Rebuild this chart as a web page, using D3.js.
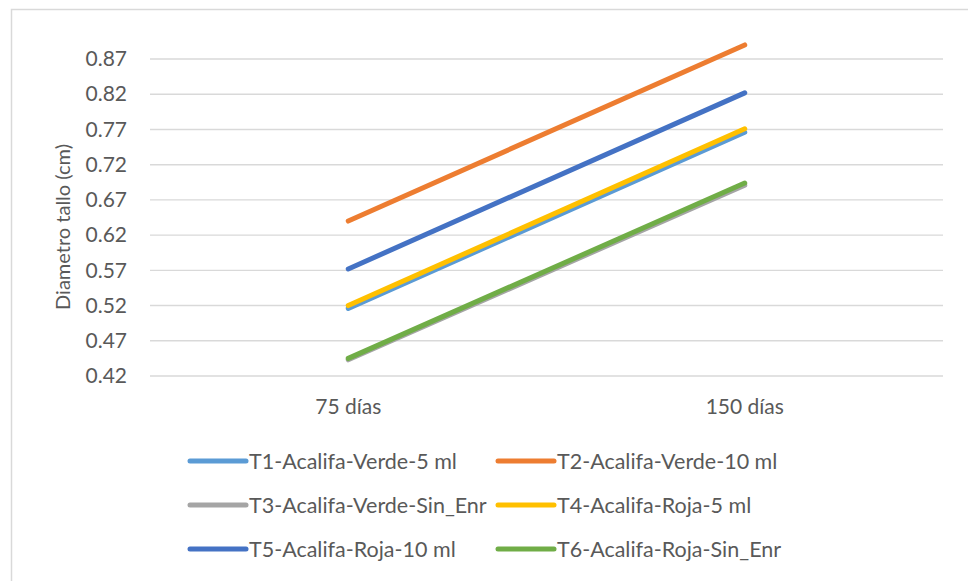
<!DOCTYPE html>
<html>
<head>
<meta charset="utf-8">
<script src="https://cdn.jsdelivr.net/npm/d3@7"></script>
<style>
  html, body { margin: 0; padding: 0; background: #fff; }
  svg { display: block; font-family: Lato, "Open Sans", sans-serif; }
</style>
</head>
<body>
<svg id="chart" width="968" height="581"></svg>
<script>
// Stem diameter at two sampling dates, per treatment
const categories = ["75 días", "150 días"];
const seriesNames = [
  "T1-Acalifa-Verde-5 ml",
  "T2-Acalifa-Verde-10 ml",
  "T3-Acalifa-Verde-Sin_Enr",
  "T4-Acalifa-Roja-5 ml",
  "T5-Acalifa-Roja-10 ml",
  "T6-Acalifa-Roja-Sin_Enr"
];
const t1 = [0.516, 0.766];
const t2 = [0.640, 0.890];
const t3 = [0.443, 0.691];
const t4 = [0.520, 0.771];
const t5 = [0.572, 0.822];
const t6 = [0.445, 0.694];
const seriesValues = [t1, t2, t3, t4, t5, t6];
const seriesColors = ["#5B9BD5", "#ED7D31", "#A5A5A5", "#FFC000", "#4472C4", "#70AD47"];
const yTicks = [0.42, 0.47, 0.52, 0.57, 0.62, 0.67, 0.72, 0.77, 0.82, 0.87];
const yTitle = "Diametro tallo (cm)";

const svg = d3.select("#chart");
const textColor = "#595959";
const gridColor = "#D9D9D9";

// chart frame
svg.append("rect")
  .attr("x", 11.5).attr("y", 9.5)
  .attr("width", 968).attr("height", 590)
  .attr("fill", "none").attr("stroke", gridColor).attr("stroke-width", 1.5);

const plot = { left: 150, right: 943, top: 37.9, bottom: 376 };

const x = d3.scaleBand().domain(categories).range([plot.left, plot.right]);
const y = d3.scaleLinear().domain([0.42, 0.90]).range([plot.bottom, plot.top]);

// horizontal gridlines
svg.append("g").selectAll("line").data(yTicks).join("line")
  .attr("x1", plot.left).attr("x2", plot.right)
  .attr("y1", d => y(d)).attr("y2", d => y(d))
  .attr("stroke", gridColor).attr("stroke-width", 1.4);

// y axis labels
const yAxis = d3.axisLeft(y).tickValues(yTicks).tickFormat(d3.format(".2f")).tickSize(0).tickPadding(0);
const gy = svg.append("g").attr("transform", `translate(127,0)`).call(yAxis);
gy.select(".domain").remove();
gy.selectAll("text").attr("fill", textColor).style("font-size", "21px").style("font-family", "Lato, sans-serif");

// x axis labels
const xAxis = d3.axisBottom(x).tickSize(0).tickPadding(0);
const gx = svg.append("g").attr("transform", `translate(0,${plot.bottom})`).call(xAxis);
gx.select(".domain").remove();
gx.selectAll("text").attr("fill", textColor).style("font-size", "21px")
  .style("font-family", "Lato, sans-serif").attr("dy", null).attr("y", 38);

// y axis title
svg.append("text")
  .attr("transform", `translate(70,${(plot.top + plot.bottom) / 2 + 20}) rotate(-90)`)
  .attr("text-anchor", "middle")
  .attr("fill", textColor).style("font-size", "20px")
  .text(yTitle);

// series lines
const line = d3.line()
  .x((d, i) => x(categories[i]) + x.bandwidth() / 2)
  .y(d => y(d));

svg.append("g").selectAll("path").data(seriesValues).join("path")
  .attr("d", d => line(d))
  .attr("fill", "none")
  .attr("stroke", (d, i) => seriesColors[i])
  .attr("stroke-width", 5)
  .attr("stroke-linecap", "round");

// legend
const legendCols = [190, 498];
const legendRows = [461, 505, 549];
const legend = svg.append("g").selectAll("g").data(seriesNames).join("g")
  .attr("transform", (d, i) => `translate(${legendCols[i % 2]},${legendRows[Math.floor(i / 2)]})`);
legend.append("line")
  .attr("x1", 0).attr("x2", 56).attr("y1", 0).attr("y2", 0)
  .attr("stroke", (d, i) => seriesColors[i])
  .attr("stroke-width", 5).attr("stroke-linecap", "round");
legend.append("text")
  .attr("x", 59).attr("y", 0).attr("dy", "0.35em")
  .attr("fill", textColor).style("font-size", "21.5px")
  .text(d => d);
</script>
</body>
</html>
